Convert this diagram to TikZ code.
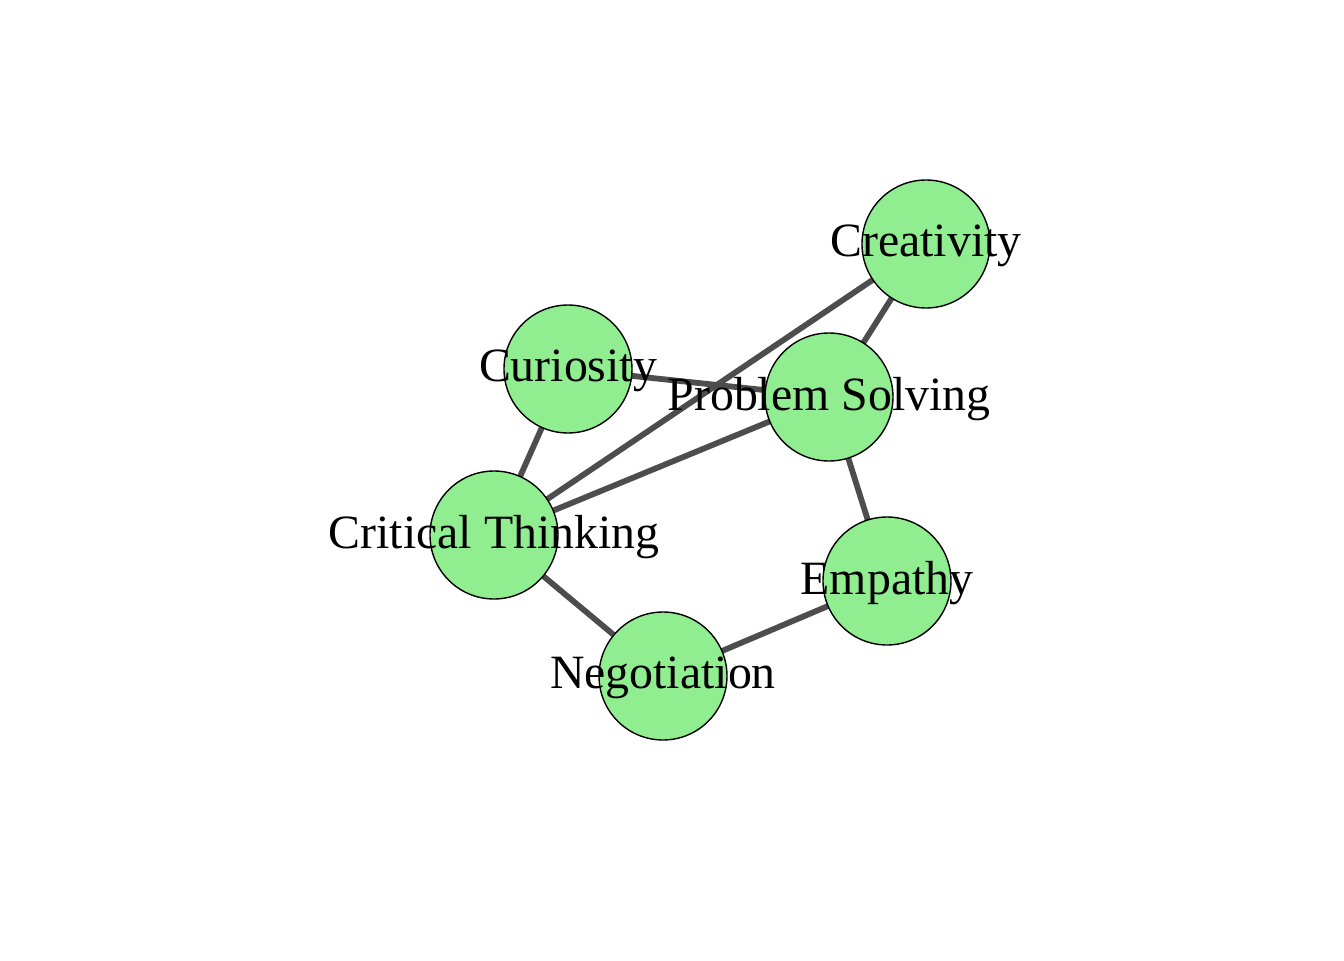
\documentclass[tikz,border=0pt]{standalone}
\usepackage{fontspec}
\setmainfont{Liberation Serif}
\usetikzlibrary{backgrounds}

\begin{document}
\begin{tikzpicture}[
    x=1cm, y=1cm,
    skill/.style={circle, draw=black, line width=0.4pt, fill={rgb,255:red,144;green,238;blue,144},
        minimum size=1.28cm, inner sep=0pt,
        label={[font=\fontsize{13.6pt}{16pt}\selectfont, inner sep=0pt, yshift=-0.02cm]center:#1}},
    link/.style={draw={rgb,255:red,77;green,77;blue,77}, line width=1.65pt}
]
\useasboundingbox (0,0) rectangle (13.44,9.6);

% skills
\node[skill=Creativity] (crea) at (9.26, 7.16) {};
\node[skill=Curiosity] (curi) at (5.68, 5.91) {};
\node[skill=Problem Solving] (prob) at (8.29, 5.63) {};
\node[skill=Critical Thinking] (crit) at (4.94, 4.25) {};
\node[skill=Empathy] (emp) at (8.87, 3.79) {};
\node[skill=Negotiation] (nego) at (6.63, 2.84) {};

% links
\begin{scope}[on background layer]
\draw[link] (crea.center) -- (prob.center);
\draw[link] (crea.center) -- (crit.center);
\draw[link] (curi.center) -- (prob.center);
\draw[link] (curi.center) -- (crit.center);
\draw[link] (crit.center) -- (prob.center);
\draw[link] (prob.center) -- (emp.center);
\draw[link] (emp.center) -- (nego.center);
\draw[link] (crit.center) -- (nego.center);
\end{scope}
\end{tikzpicture}
\end{document}
